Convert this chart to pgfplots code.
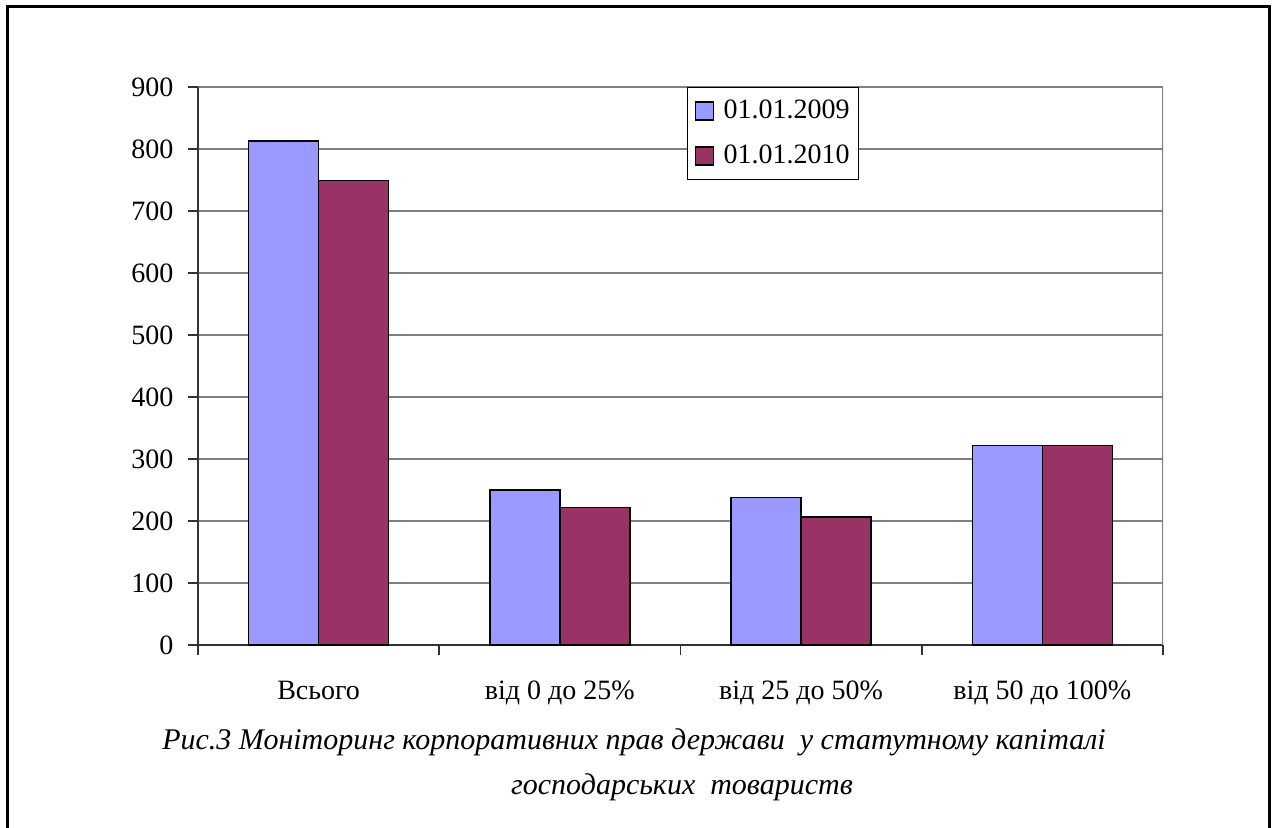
\documentclass[border=0pt]{standalone}
\usepackage{fontspec}
\setmainfont{Liberation Serif}
\usepackage{pgfplots}
\pgfplotsset{compat=1.18}
\definecolor{bblue}{HTML}{9999FF}
\definecolor{bred}{HTML}{993366}
\begin{document}
\fontsize{14}{16}\selectfont
\begin{tikzpicture}[x=1pt,y=1pt]
\useasboundingbox (0,0) rectangle (636,413.5);
\draw[line width=1.5pt] (3.5,-10) -- (3.5,410) -- (634.5,410) -- (634.5,-10);
\begin{axis}[
  at={(99pt,91pt)}, anchor=south west,
  width=482.5pt, height=279pt, scale only axis,
  ymin=0, ymax=900, ytick={0,100,...,900},
  xmin=-0.5, xmax=3.5, xtick={0,1,2,3},
  xticklabels={Всього, від 0 до 25\%, від 25 до 50\%, від 50 до 100\%},
  minor xtick={-0.5,0.5,1.5,2.5,3.5},
  axis lines=left,
  axis line style={-, line width=1pt, black!80},
  tick align=outside,
  major tick length=5pt, minor tick length=5pt,
  xtick style={draw=none},
  minor x tick style={draw=black!80, line width=0.8pt},
  ytick style={draw=black!80, line width=0.8pt},
  ymajorgrids, grid style={gray, line width=1pt},
  xticklabel style={yshift=-8pt},
  yticklabel style={xshift=-2.5pt},
  /pgf/number format/assume math mode=true,
  ybar=0pt, bar width=35pt,
  legend style={at={(0.5067,1)}, anchor=north west, draw=black, line width=0.6pt,
    inner xsep=2.5pt, inner ysep=4pt, row sep=7pt, font=\fontsize{14}{16}\selectfont},
  legend cell align=left,
]
\addplot[fill=bblue, draw=black, line width=0.8pt,
  legend image code/.code={\path[draw=none,fill=none] (0pt,0pt) rectangle (13.5pt,0pt);\draw[fill=bblue,draw=black,line width=0.7pt] (1.5pt,-4.5pt) rectangle (10.5pt,4.5pt);}]
  coordinates {(0,813) (1,250) (2,238) (3,322)};
\addplot[fill=bred, draw=black, line width=0.8pt,
  legend image code/.code={\path[draw=none,fill=none] (0pt,0pt) rectangle (13.5pt,0pt);\draw[fill=bred,draw=black,line width=0.7pt] (1.5pt,-4.5pt) rectangle (10.5pt,4.5pt);}]
  coordinates {(0,749) (1,222) (2,206) (3,322)};
\legend{01.01.2009, 01.01.2010}
\draw[gray, line width=1pt] (rel axis cs:1,0) -- (rel axis cs:1,1);
\end{axis}
\node[font=\itshape\fontsize{15}{17}\selectfont] at (317,42.5) {Рис.3 Моніторинг корпоративних прав держави\ \ у статутному капіталі};
\node[font=\itshape\fontsize{15}{17}\selectfont] at (341,20) {господарських\ \ товариств};
\end{tikzpicture}
\end{document}
